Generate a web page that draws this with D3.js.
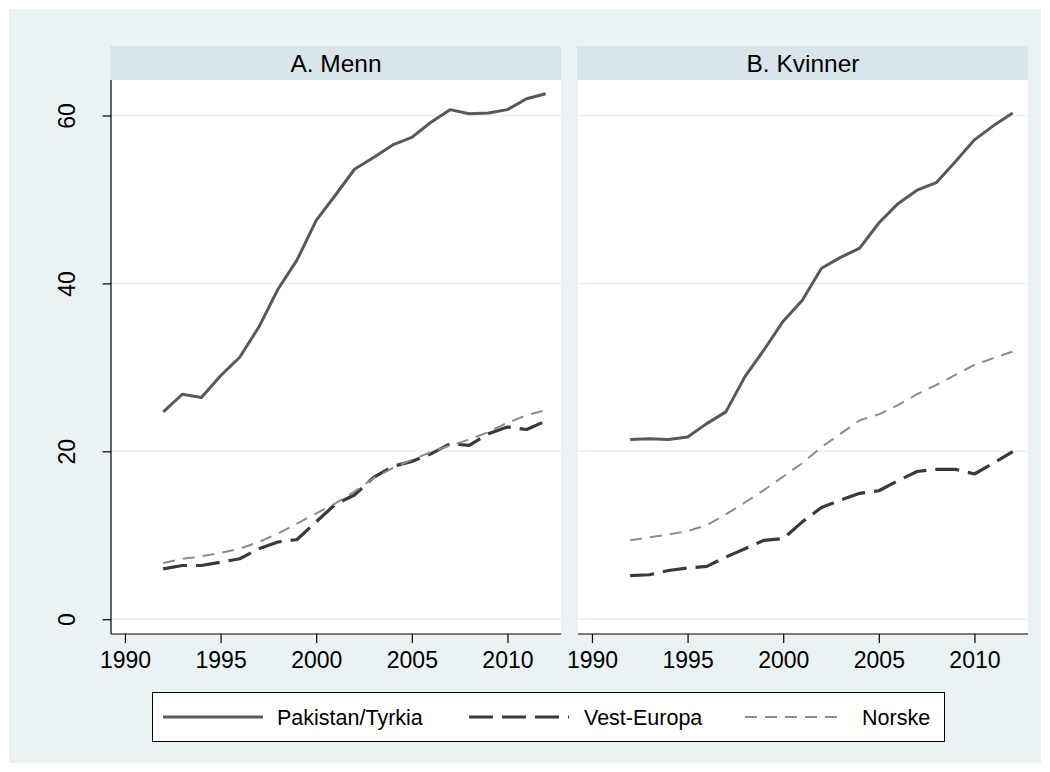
<!DOCTYPE html>
<html>
  <head>
    <title>Menn og kvinner</title>
    <style>
      body { margin: 0; background: #fff; }
      text { font-family: Arial, "Liberation Sans", sans-serif; fill: #000; }
    </style>
  </head>
  <body>
    <script src="https://d3js.org/d3.v7.min.js"></script>
    <script>
      var years = [1992, 1993, 1994, 1995, 1996, 1997, 1998, 1999, 2000, 2001, 2002,
                   2003, 2004, 2005, 2006, 2007, 2008, 2009, 2010, 2011, 2012];

      var menPak = [24.7, 26.8, 26.4, 29.0, 31.2, 34.8, 39.3, 42.8, 47.5, 50.5, 53.6,
                    55.0, 56.5, 57.4, 59.2, 60.7, 60.2, 60.3, 60.7, 62.0, 62.6];
      var menVest = [6.0, 6.4, 6.4, 6.8, 7.2, 8.4, 9.2, 9.5, 11.6, 13.7, 14.8,
                     16.9, 18.2, 18.8, 19.7, 20.9, 20.7, 22.1, 22.9, 22.6, 23.6];
      var menNorske = [6.7, 7.2, 7.5, 7.9, 8.4, 9.2, 10.2, 11.4, 12.6, 13.8, 15.2,
                       16.8, 18.0, 19.0, 19.9, 20.7, 21.4, 22.3, 23.4, 24.3, 24.9];

      var womenPak = [21.4, 21.5, 21.4, 21.7, 23.3, 24.7, 28.9, 32.1, 35.5, 38.0, 41.8,
                      43.1, 44.2, 47.2, 49.5, 51.1, 52.0, 54.5, 57.1, 58.8, 60.3];
      var womenVest = [5.2, 5.3, 5.8, 6.1, 6.3, 7.4, 8.4, 9.4, 9.6, 11.6, 13.3,
                       14.2, 15.0, 15.3, 16.5, 17.6, 17.85, 17.85, 17.3, 18.6, 19.95];
      var womenNorske = [9.4, 9.75, 10.1, 10.5, 11.2, 12.5, 13.9, 15.4, 17.0, 18.6, 20.5,
                         22.1, 23.7, 24.4, 25.5, 26.8, 27.9, 29.1, 30.3, 31.1, 31.9];

      var panelTitles = ["A. Menn", "B. Kvinner"];
      var seriesNames = ["Pakistan/Tyrkia", "Vest-Europa", "Norske"];
      var xTicks = [1990, 1995, 2000, 2005, 2010];
      var yTicks = [0, 20, 40, 60];

      var panels = [
        {title: panelTitles[0], series: [menPak, menVest, menNorske]},
        {title: panelTitles[1], series: [womenPak, womenVest, womenNorske]}
      ];

      // line looks per series: solid, long dash, short dash
      var styles = [
        {color: "#595959", width: 3, dash: null},
        {color: "#3a3a3a", width: 3.2, dash: "24,9"},
        {color: "#8c8c8c", width: 2, dash: "12,8"}
      ];

      var W = 1050, H = 772;
      var svg = d3.select("body").append("svg").attr("width", W).attr("height", H);

      svg.append("rect").attr("x", 9).attr("y", 9).attr("width", W - 18).attr("height", H - 18)
        .attr("fill", "#EAF2F3");

      var plotW = 450, plotTop = 80, plotBottom = 634;
      var panelLeft = [111, 578];

      var x = d3.scaleLinear().domain([1989.27, 2012.8]).range([0, plotW]);
      var y = d3.scaleLinear().domain([-1.76, 64.23]).range([plotBottom, plotTop]);

      var line = d3.line()
        .x(function(d) { return x(d[0]); })
        .y(function(d) { return y(d[1]); });

      panels.forEach(function(p, i) {
        var g = svg.append("g").attr("transform", "translate(" + panelLeft[i] + ",0)");

        // strip header
        g.append("rect").attr("x", -1).attr("y", 46).attr("width", plotW + 1).attr("height", 34)
          .attr("fill", "#D9E5EA");
        g.append("text").attr("x", plotW / 2).attr("y", 72).attr("text-anchor", "middle")
          .style("font-size", "24.5px").text(p.title);

        g.append("rect").attr("x", 0).attr("y", plotTop).attr("width", plotW)
          .attr("height", plotBottom - plotTop).attr("fill", "#fff");

        g.selectAll(".grid").data(yTicks).enter().append("line")
          .attr("x1", 0).attr("x2", plotW)
          .attr("y1", function(d) { return y(d); }).attr("y2", function(d) { return y(d); })
          .attr("stroke", "#EAF2F3").attr("stroke-width", 1.5);

        p.series.forEach(function(vals, j) {
          var pts = years.map(function(yr, k) { return [yr, vals[k]]; });
          g.append("path").datum(pts)
            .attr("d", line)
            .attr("fill", "none")
            .attr("stroke", styles[j].color)
            .attr("stroke-width", styles[j].width)
            .attr("stroke-linejoin", "round")
            .attr("stroke-dasharray", styles[j].dash);
        });

        var xAxis = g.append("g").attr("transform", "translate(0," + plotBottom + ")")
          .call(d3.axisBottom(x).tickValues(xTicks).tickFormat(d3.format("d")).tickSize(9).tickPadding(9));
        xAxis.select(".domain").attr("stroke", "#000").attr("stroke-width", 1.2)
          .attr("d", "M0,0H" + plotW);
        xAxis.selectAll(".tick line").attr("stroke", "#000").attr("stroke-width", 1.2);
        xAxis.selectAll(".tick text").style("font-size", "23px")
          .style("font-family", "Arial, 'Liberation Sans', sans-serif").attr("fill", "#000");

        if (i == 0) {
          var yAxis = g.append("g")
            .call(d3.axisLeft(y).tickValues(yTicks).tickSize(8.5).tickPadding(0));
          yAxis.select(".domain").attr("stroke", "#000").attr("stroke-width", 1.2)
            .attr("d", "M0," + plotTop + "V" + plotBottom);
          yAxis.selectAll(".tick line").attr("stroke", "#000").attr("stroke-width", 1.2);
          yAxis.selectAll(".tick text")
            .style("font-size", "23px")
            .style("font-family", "Arial, 'Liberation Sans', sans-serif")
            .attr("fill", "#000")
            .attr("text-anchor", "middle")
            .attr("dy", null)
            .attr("x", 0)
            .attr("transform", "translate(-36,0) rotate(-90)");
        }
      });

      // legend
      var leg = svg.append("g");
      leg.append("rect").attr("x", 152.5).attr("y", 692.5).attr("width", 792).attr("height", 49)
        .attr("fill", "#fff").attr("stroke", "#000").attr("stroke-width", 1);

      var legLineX = [163, 469, 745];
      var legTextX = [277, 584, 862];
      seriesNames.forEach(function(name, j) {
        leg.append("line").attr("x1", legLineX[j]).attr("x2", legLineX[j] + 100)
          .attr("y1", 717).attr("y2", 717)
          .attr("stroke", styles[j].color).attr("stroke-width", styles[j].width)
          .attr("stroke-dasharray", styles[j].dash);
        leg.append("text").attr("x", legTextX[j]).attr("y", 725)
          .style("font-size", "21.5px").text(name);
      });
    </script>
  </body>
</html>
